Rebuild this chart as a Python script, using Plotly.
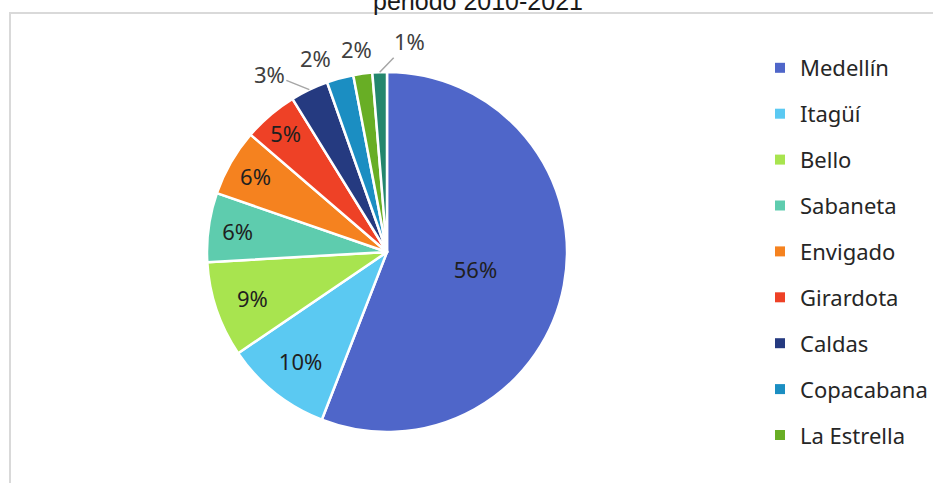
import math
import plotly.graph_objects as go

# Data
municipios = ["Medellín", "Itagüí", "Bello", "Sabaneta", "Envigado",
              "Girardota", "Caldas", "Copacabana", "La Estrella", "Barbosa"]
valores = [55.9, 9.6, 8.6, 6.2, 6.0, 4.9, 3.4, 2.4, 1.7, 1.3]
colores = ["#4F66C9", "#5BC9F2", "#A8E44F", "#5ECCAE", "#F5821F",
           "#EE4126", "#253A80", "#1B8EC2", "#68AE25", "#23866D"]
titulo = "periodo 2010-2021"
legend_items = 9  # legend in the reference shows the first nine entries

# label placement for the small outside slices (pixel offsets from the rim, leader line?)
outside_offsets = {"Caldas": (-40, -16, True), "Copacabana": (-25, -20, False),
                   "La Estrella": (-6, -25, False), "Barbosa": (30, -31, True)}

W, H = 933, 483
cx, cy, r = 387, 252, 180
total = sum(valores)

texts = ["" if m in outside_offsets else "%{percent:.0%}" for m in municipios]

fig = go.Figure()
fig.add_trace(go.Pie(
    labels=municipios,
    values=valores,
    sort=False,
    direction="clockwise",
    rotation=0,
    marker=dict(colors=colores, line=dict(color="white", width=2.5)),
    texttemplate=texts,
    textposition="inside",
    insidetextorientation="horizontal",
    insidetextfont=dict(family="Noto Sans", size=22, color="#1f1f1f"),
    showlegend=False,
    hoverinfo="label+percent",
    domain=dict(x=[(cx - r) / W, (cx + r) / W],
                y=[(H - cy - r) / H, (H - cy + r) / H]),
))

for name, col in zip(municipios[:legend_items], colores[:legend_items]):
    fig.add_trace(go.Scatter(
        x=[None], y=[None], mode="markers", name=name,
        legendgroup=name,
        marker=dict(symbol="square", size=10, color=col),
    ))

# outside labels anchored at each slice's mid-angle on the rim (from the data)
annotations = []
cum = 0.0
for name, v in zip(municipios, valores):
    mid = (cum + v / 2) / total * 2 * math.pi
    cum += v
    if name not in outside_offsets:
        continue
    px = cx + r * math.sin(mid)
    py = cy - r * math.cos(mid)
    ax, ay, leader = outside_offsets[name]
    annotations.append(dict(
        x=px / W, y=1 - py / H, xref="paper", yref="paper",
        text=f"{round(v / total * 100)}%", showarrow=True,
        ax=ax, ay=ay, arrowhead=0, arrowwidth=1.5, standoff=0,
        arrowcolor="#a6a6a6" if leader else "rgba(0,0,0,0)",
        font=dict(family="Noto Sans", size=22, color="#404040"),
    ))

fig.update_layout(
    width=W, height=H,
    margin=dict(l=0, r=0, t=0, b=0, autoexpand=False),
    paper_bgcolor="white",
    plot_bgcolor="white",
    xaxis=dict(visible=False),
    yaxis=dict(visible=False),
    title=dict(text=titulo, x=478 / W, xanchor="center", y=0.998, yanchor="middle",
               yref="container",
               font=dict(family="Liberation Sans", size=25, color="#1a1a1a")),
    legend=dict(x=760 / W, y=1 - 47 / H, xanchor="left", yanchor="top",
                font=dict(family="Noto Sans", size=22, color="#262626"),
                tracegroupgap=14.3, itemwidth=30, bgcolor="rgba(0,0,0,0)"),
    annotations=annotations,
    shapes=[dict(type="rect", xref="paper", yref="paper",
                 x0=10 / W, x1=1.05, y0=-0.05, y1=1 - 13 / H,
                 line=dict(color="#d9d9d9", width=2), layer="below")],
)

fig.write_html("out.html", config={"displayModeBar": False},
               post_script="document.body.style.margin='0';")
